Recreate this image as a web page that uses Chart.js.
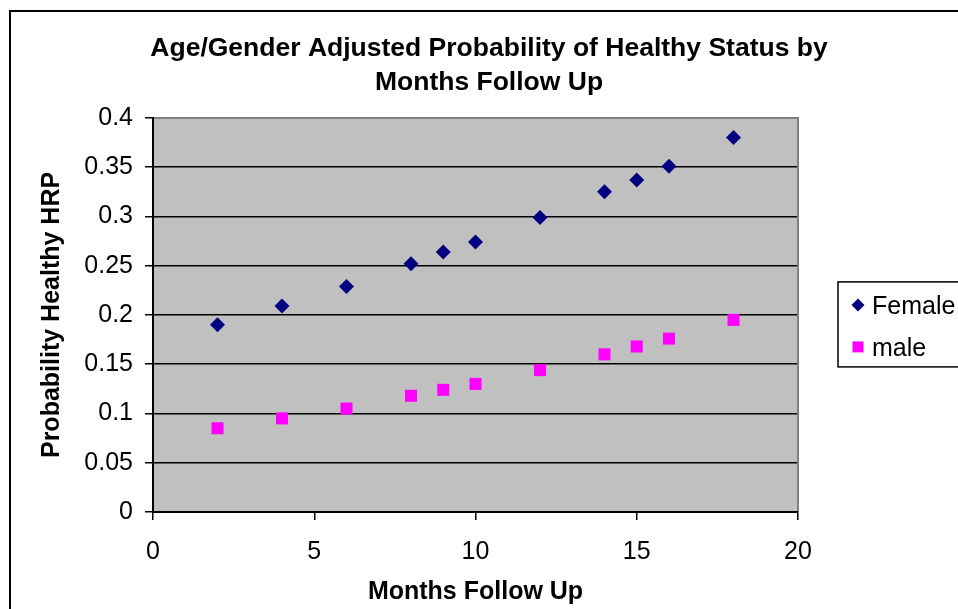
<!DOCTYPE html>
<html>
<head>
<meta charset="utf-8">
<script src="https://cdn.jsdelivr.net/npm/chart.js@4.4.1/dist/chart.umd.min.js"></script>
<style>
  html, body { margin: 0; padding: 0; background: #fff; }
</style>
</head>
<body>
<canvas id="chart" width="958" height="609"></canvas>
<script>
// Chart data
const months = [2, 4, 6, 8, 9, 10, 12, 14, 15, 16, 18];
const female = [0.190, 0.209, 0.229, 0.252, 0.264, 0.274, 0.299, 0.325, 0.337, 0.351, 0.380];
const male = [0.085, 0.095, 0.105, 0.118, 0.124, 0.130, 0.144, 0.160, 0.168, 0.176, 0.195];
const seriesNames = ['Female', 'male'];
const titleLines = ['Age/Gender Adjusted Probability of Healthy Status by', 'Months Follow Up'];
const xTitle = 'Months Follow Up';
const yTitle = 'Probability Healthy HRP';

const FONT = '"Liberation Sans", Arial, sans-serif';

// Grey plot area and the outer frame of the chart
const plotBackground = {
    id: 'plotBackground',
    beforeDraw(chart) {
        const { ctx, chartArea: a } = chart;
        ctx.save();
        ctx.strokeStyle = '#000';
        ctx.lineWidth = 2;
        ctx.strokeRect(10, 11, chart.width + 20, chart.height + 20);
        ctx.fillStyle = '#c0c0c0';
        ctx.fillRect(a.left, a.top, a.right - a.left, a.bottom - a.top);
        ctx.restore();
    },
    beforeDatasetsDraw(chart) {
        // top and right edges of the plot are grey, not black
        const { ctx, chartArea: a } = chart;
        ctx.save();
        ctx.strokeStyle = '#808080';
        ctx.lineWidth = 2;
        ctx.beginPath();
        ctx.moveTo(a.left + 1, a.top);
        ctx.lineTo(a.right, a.top);
        ctx.lineTo(a.right, a.bottom - 1);
        ctx.stroke();
        ctx.restore();
    }
};

// Boxed legend on the right, running off the edge like the original
const boxLegend = {
    id: 'boxLegend',
    afterDraw(chart) {
        const { ctx, chartArea: a } = chart;
        const left = a.right + 40;
        const top = a.top + 164;
        ctx.save();
        ctx.strokeStyle = '#000';
        ctx.lineWidth = 1.5;
        ctx.strokeRect(left, top, chart.width, 85);
        ctx.font = '25px ' + FONT;
        ctx.textBaseline = 'alphabetic';
        chart.data.datasets.forEach((ds, i) => {
            const cy = top + 23 + i * 42;
            const cx = left + 20;
            ctx.fillStyle = ds.backgroundColor;
            ctx.beginPath();
            if (ds.pointStyle === 'rectRot') {
                ctx.moveTo(cx, cy - 6.5);
                ctx.lineTo(cx + 6.5, cy);
                ctx.lineTo(cx, cy + 6.5);
                ctx.lineTo(cx - 6.5, cy);
                ctx.closePath();
            } else {
                ctx.rect(cx - 5.5, cy - 5.5, 11, 11);
            }
            ctx.fill();
            ctx.fillStyle = '#000';
            ctx.fillText(ds.label, left + 34, cy + 9);
        });
        ctx.restore();
    }
};

new Chart(document.getElementById('chart'), {
    type: 'scatter',
    data: {
        datasets: [
            {
                label: seriesNames[0],
                data: months.map((m, i) => ({ x: m, y: female[i] })),
                backgroundColor: '#000080',
                borderColor: '#000080',
                pointStyle: 'rectRot',
                pointRadius: 7.5,
                pointHoverRadius: 7.5,
                pointBorderWidth: 0
            },
            {
                label: seriesNames[1],
                data: months.map((m, i) => ({ x: m, y: male[i] })),
                backgroundColor: '#ff00ff',
                borderColor: '#ff00ff',
                pointStyle: 'rect',
                pointRadius: 8.5,
                pointHoverRadius: 8.5,
                pointBorderWidth: 0
            }
        ]
    },
    options: {
        responsive: false,
        animation: false,
        layout: { padding: { left: 20, top: 12, right: 0, bottom: 0 } },
        plugins: {
            legend: { display: false },
            tooltip: { enabled: false },
            title: {
                display: true,
                text: titleLines,
                color: '#000',
                font: { family: FONT, size: 26.5, weight: 'bold', lineHeight: 1.3 },
                padding: { top: 19, bottom: 18 }
            }
        },
        scales: {
            x: {
                type: 'linear',
                min: 0,
                max: 20,
                ticks: { stepSize: 5, color: '#000', padding: 17, font: { family: FONT, size: 25 } },
                grid: { drawOnChartArea: false, color: '#000', lineWidth: 1.5, tickLength: 8 },
                border: { color: '#000', width: 2 },
                title: {
                    display: true,
                    text: xTitle,
                    color: '#000',
                    font: { family: FONT, size: 25, weight: 'bold' },
                    padding: { top: 0, bottom: 2 }
                },
                afterFit(scale) { scale.height = 97; }
            },
            y: {
                type: 'linear',
                min: 0,
                max: 0.4,
                ticks: {
                    stepSize: 0.05,
                    color: '#000',
                    padding: 12,
                    font: { family: FONT, size: 25 },
                    callback: v => String(Number(v.toFixed(2)))
                },
                grid: { color: '#000', lineWidth: 1.5, tickLength: 8 },
                border: { color: '#000', width: 2 },
                title: {
                    display: true,
                    text: yTitle,
                    color: '#000',
                    font: { family: FONT, size: 25, weight: 'bold' },
                    padding: { top: 17, bottom: 0 }
                },
                afterFit(scale) { scale.width = 133; }
            },
            // empty right-hand axis that only reserves room for the legend
            legendSpace: {
                type: 'linear',
                position: 'right',
                grid: { display: false },
                border: { display: false },
                ticks: { display: false },
                afterFit(scale) { scale.width = 160; }
            }
        }
    },
    plugins: [plotBackground, boxLegend]
});
</script>
</body>
</html>
